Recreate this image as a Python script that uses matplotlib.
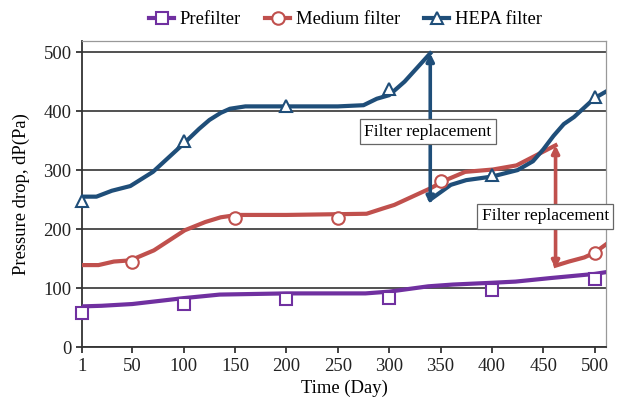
import numpy as np
import matplotlib
matplotlib.use('Agg')
import matplotlib.pyplot as plt
from matplotlib.lines import Line2D

plt.rcParams['font.family'] = ['Liberation Serif', 'DejaVu Serif']

# Prefilter
pre_day = [1, 20, 50, 75, 100, 135, 200, 277, 300, 338, 362, 400, 423, 457, 500, 511]
pre_dp = [69, 70, 73, 78, 83, 89, 91, 91, 94, 103, 106, 109, 111, 117, 124, 127]
pre_mk_day = [1, 100, 200, 300, 400, 500]
pre_mk_dp = [58, 73, 82, 84, 97, 116]

# Medium filter (before and after replacement)
med_day = [1, 17, 32, 48, 71, 101, 121, 136, 152, 200, 278, 294, 305, 340, 355, 374, 401, 424, 462]
med_dp = [139, 139, 145, 147, 164, 198, 212, 220, 224, 224, 226, 235, 241, 269, 283, 297, 301, 308, 342]
med2_day = [462, 475, 490, 500, 511]
med2_dp = [138, 145, 152, 160, 174]
med_mk_day = [50, 150, 250, 350, 500]
med_mk_dp = [145, 218, 218, 281, 159]

# HEPA filter (before and after replacement)
hepa_day = [1, 15, 30, 48, 70, 100, 115, 125, 136, 145, 160, 200, 250, 275, 288, 300, 315, 340]
hepa_dp = [255, 255, 265, 273, 297, 345, 370, 385, 397, 404, 408, 408, 408, 410, 421, 427, 450, 498]
hepa2_day = [340, 360, 375, 400, 425, 440, 450, 460, 470, 480, 500, 511]
hepa2_dp = [250, 275, 283, 289, 300, 315, 335, 358, 378, 390, 422, 433]
hepa_mk_day = [1, 100, 200, 300, 400, 500]
hepa_mk_dp = [247, 350, 408, 437, 292, 424]

c_pre = '#7030A0'
c_med = '#C0504D'
c_hepa = '#1F4E79'

fig = plt.figure(figsize=(6.17, 4.05), dpi=100)
ax = fig.add_axes([0.133, 0.143, 0.849, 0.756])

lw = 3
mk = dict(ms=9, mfc='white', mew=1.5)
ax.plot(pre_day, pre_dp, color=c_pre, lw=lw, zorder=3)
ax.plot(pre_mk_day, pre_mk_dp, ls='none', marker='s', mec=c_pre, zorder=4, clip_on=False, **mk)

ax.plot(med_day, med_dp, color=c_med, lw=lw, zorder=3)
ax.plot(med2_day, med2_dp, color=c_med, lw=lw, zorder=3)
ax.plot(med_mk_day, med_mk_dp, ls='none', marker='o', mec=c_med, zorder=4, clip_on=False, **mk)

ax.plot(hepa_day, hepa_dp, color=c_hepa, lw=lw, zorder=3)
ax.plot(hepa2_day, hepa2_dp, color=c_hepa, lw=lw, zorder=3)
ax.plot(hepa_mk_day, hepa_mk_dp, ls='none', marker='^', mec=c_hepa, zorder=4, clip_on=False, **mk)

# replacement arrows
ax.annotate('', xy=(hepa_day[-1], hepa_dp[-1]), xytext=(hepa2_day[0], hepa2_dp[0] - 8),
            arrowprops=dict(arrowstyle='<|-|>', color=c_hepa, lw=2.6, mutation_scale=11,
                            shrinkA=0, shrinkB=0), zorder=5)
ax.annotate('', xy=(med_day[-1], med_dp[-1]), xytext=(med2_day[0], med2_dp[0] - 5),
            arrowprops=dict(arrowstyle='<|-|>', color=c_med, lw=2.6, mutation_scale=11,
                            shrinkA=0, shrinkB=0), zorder=5)

bbox = dict(boxstyle='square,pad=0.25', fc='white', ec='#666666', lw=0.9)
ax.text(337.6, 365, 'Filter replacement', ha='center', va='center', fontsize=12.5, bbox=bbox, zorder=6)
ax.text(452, 221.6, 'Filter replacement', ha='center', va='center', fontsize=12.5, bbox=bbox, zorder=6,
        clip_on=False)

ax.set_xlim(1, 511)
ax.set_ylim(0, 519)
ax.set_xticks([1, 50, 100, 150, 200, 250, 300, 350, 400, 450, 500])
ax.set_yticks([0, 100, 200, 300, 400, 500])
ax.yaxis.grid(True, color='#222222', lw=1.1)
ax.set_axisbelow(True)
for s in ['top', 'right']:
    ax.spines[s].set_color('#999999')
    ax.spines[s].set_linewidth(0.9)
for s in ['left', 'bottom']:
    ax.spines[s].set_color('#333333')
    ax.spines[s].set_linewidth(1.3)
ax.tick_params(direction='out', length=4, width=1.2, labelsize=13.4, colors='#222222')
ax.set_xlabel('Time (Day)', fontsize=13.4)
ax.set_ylabel('Pressure drop, dP(Pa)', fontsize=13.4, labelpad=10)

handles = [
    Line2D([], [], color=c_pre, lw=lw, marker='s', mec=c_pre, **mk),
    Line2D([], [], color=c_med, lw=lw, marker='o', mec=c_med, **mk),
    Line2D([], [], color=c_hepa, lw=lw, marker='^', mec=c_hepa, **mk),
]
fig.legend(handles, ['Prefilter', 'Medium filter', 'HEPA filter'], loc='center',
           bbox_to_anchor=(0.56, 0.951), ncol=3, frameon=False, fontsize=13.4,
           handlelength=1.35, handletextpad=0.3, columnspacing=1.3, borderpad=0)

fig.savefig('out.png', dpi=100)
